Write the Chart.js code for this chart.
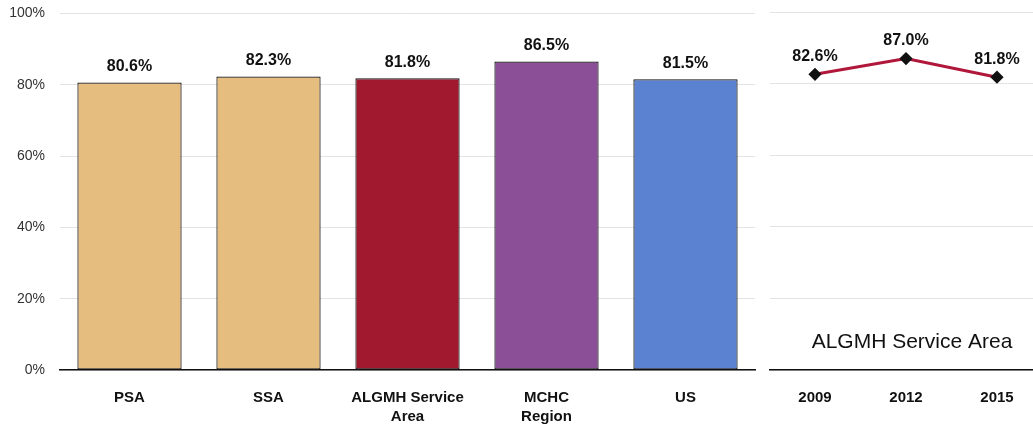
<!DOCTYPE html>
<html>
<head>
<meta charset="utf-8">
<script src="https://cdn.jsdelivr.net/npm/chart.js@4/dist/chart.umd.min.js"></script>
<style>
  html, body { margin: 0; padding: 0; background: #fff; overflow: hidden; }
  #wrap { position: relative; width: 1033px; height: 429px; overflow: hidden; }
  #barBox { position: absolute; left: 0; top: -10px; width: 762px; height: 439px; }
  #lineBox { position: absolute; left: 762px; top: -10px; width: 288px; height: 439px; }
</style>
</head>
<body>
<div id="wrap">
  <div id="barBox"><canvas id="barChart"></canvas></div>
  <div id="lineBox"><canvas id="lineChart"></canvas></div>
</div>
<script>
// bar panel
const barLabels = [['PSA'], ['SSA'], ['ALGMH Service', 'Area'], ['MCHC', 'Region'], ['US']];
const barValues = [80.6, 82.3, 81.8, 86.5, 81.5];
const barColors = ['#E5BD7E', '#E5BD7E', '#A0192E', '#8B4F98', '#5B82D1'];

// trend panel
const trendYears = ['2009', '2012', '2015'];
const trendValues = [82.6, 87.0, 81.8];
const trendName = 'ALGMH Service Area';

const yTicks = [0, 20, 40, 60, 80, 100];

const FONT = '"Liberation Sans", Arial, sans-serif';

// draws the value above each bar / point
const valueLabels = {
    id: 'valueLabels',
    afterDatasetsDraw(chart, args, opts) {
        const ctx = chart.ctx;
        ctx.save();
        ctx.font = 'bold 16px ' + FONT;
        ctx.fillStyle = '#111';
        ctx.textAlign = 'center';
        ctx.textBaseline = 'bottom';
        chart.getDatasetMeta(0).data.forEach((el, i) => {
            const v = chart.data.datasets[0].data[i];
            ctx.fillText(v.toFixed(1) + '%', el.x, el.y - opts.gap);
        });
        ctx.restore();
    }
};

// series name written inside the trend panel
const panelName = {
    id: 'panelName',
    afterDraw(chart, args, opts) {
        if (!opts.text) return;
        const a = chart.chartArea;
        const ctx = chart.ctx;
        ctx.save();
        ctx.font = '21px ' + FONT;
        ctx.fillStyle = '#111';
        ctx.textAlign = 'center';
        ctx.textBaseline = 'middle';
        ctx.fillText(opts.text, opts.x, a.bottom - 28);
        ctx.restore();
    }
};

function yScale(showTicks) {
    return {
        min: 0,
        max: 100,
        afterBuildTicks: s => { s.ticks = yTicks.map(v => ({ value: v })); },
        afterFit: s => { s.width = showTicks ? 60 : 0; },
        grid: { color: '#E3E3E3', lineWidth: 1, drawTicks: false },
        border: { display: false },
        ticks: {
            display: showTicks,
            padding: 15,
            color: '#333',
            font: { family: FONT, size: 14 },
            callback: v => v + '%'
        }
    };
}

function xScale() {
    return {
        offset: true,
        afterFit: s => { s.height = 55; },
        grid: { display: false, drawTicks: false },
        border: { display: true, color: '#111', width: 1.5 },
        ticks: {
            padding: 18,
            color: '#111',
            font: { family: FONT, size: 15, weight: 'bold', lineHeight: 1.3 },
            maxRotation: 0,
            autoSkip: false
        }
    };
}

new Chart(document.getElementById('barChart'), {
    type: 'bar',
    data: {
        labels: barLabels,
        datasets: [{
            data: barValues,
            backgroundColor: barColors,
            borderColor: '#111',
            borderWidth: 1.2,
            borderSkipped: false,
            barPercentage: 0.75,
            categoryPercentage: 1
        }]
    },
    options: {
        responsive: true,
        maintainAspectRatio: false,
        animation: false,
        layout: { padding: { top: 4, right: 7, bottom: 4 } },
        plugins: {
            legend: { display: false },
            tooltip: { enabled: false },
            valueLabels: { gap: 8 }
        },
        scales: { x: xScale(), y: yScale(true) }
    },
    plugins: [valueLabels]
});

new Chart(document.getElementById('lineChart'), {
    type: 'line',
    data: {
        labels: trendYears,
        datasets: [{
            data: trendValues,
            borderColor: '#B0173A',
            borderWidth: 3,
            pointStyle: 'rectRot',
            pointRadius: 4.5,
            pointBackgroundColor: '#111',
            pointBorderColor: '#111',
            tension: 0
        }]
    },
    options: {
        responsive: true,
        maintainAspectRatio: false,
        animation: false,
        layout: { padding: { top: 22, left: 7, bottom: 4 } },
        plugins: {
            legend: { display: false },
            tooltip: { enabled: false },
            valueLabels: { gap: 10 },
            panelName: { text: trendName, x: 150 }
        },
        scales: { x: xScale(), y: yScale(false) }
    },
    plugins: [valueLabels, panelName]
});
</script>
</body>
</html>
